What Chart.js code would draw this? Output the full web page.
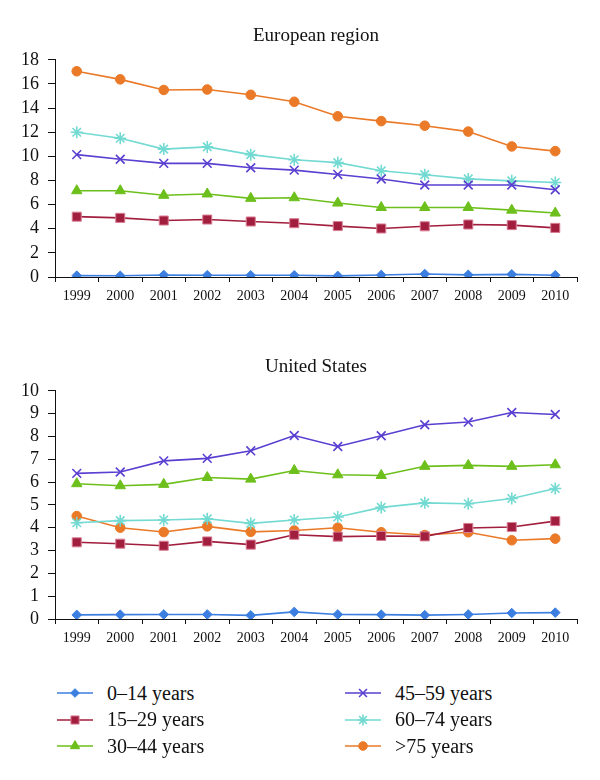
<!DOCTYPE html>
<html>
<head>
<meta charset="utf-8">
<script src="https://cdn.jsdelivr.net/npm/chart.js@4.4.1/dist/chart.umd.min.js"></script>
<style>
    body { margin: 0; background: #fff; width: 600px; height: 780px; position: relative; overflow: hidden; }
    .box { position: absolute; left: 0; width: 600px; }
    #euBox { top: 0; height: 310px; }
    #usBox { top: 320px; height: 340px; }
    .leg { position: absolute; height: 24px; display: flex; align-items: center;
           font-family: 'Liberation Serif', serif; font-size: 20px; color: #111; white-space: nowrap; }
    .leg canvas { margin-right: 12px; }
</style>
</head>
<body>
<div class="box" id="euBox"><canvas id="euChart"></canvas></div>
<div class="box" id="usBox"><canvas id="usChart"></canvas></div>
<div id="legend"></div>

<script>
const years = ['1999', '2000', '2001', '2002', '2003', '2004', '2005', '2006', '2007', '2008', '2009', '2010'];
const groups = ['0\u201314 years', '15\u201329 years', '30\u201344 years', '45\u201359 years', '60\u201374 years', '>75 years'];

// European region
const eu0to14 = [0.11, 0.1, 0.17, 0.15, 0.14, 0.14, 0.09, 0.17, 0.25, 0.18, 0.22, 0.15];
const eu15to29 = [5.0, 4.9, 4.68, 4.76, 4.6, 4.46, 4.22, 4.02, 4.2, 4.35, 4.3, 4.07];
const eu30to44 = [7.15, 7.15, 6.77, 6.88, 6.52, 6.57, 6.13, 5.76, 5.76, 5.76, 5.54, 5.3];
const eu45to59 = [10.14, 9.76, 9.42, 9.42, 9.05, 8.86, 8.5, 8.12, 7.62, 7.62, 7.62, 7.23];
const eu60to74 = [12.0, 11.5, 10.6, 10.78, 10.14, 9.72, 9.48, 8.8, 8.48, 8.13, 7.97, 7.83];
const eu75plus = [17.05, 16.38, 15.5, 15.54, 15.1, 14.52, 13.32, 12.92, 12.54, 12.05, 10.82, 10.43];

// United States
const us0to14 = [0.18, 0.19, 0.2, 0.2, 0.16, 0.31, 0.2, 0.19, 0.17, 0.2, 0.26, 0.28];
const us15to29 = [3.36, 3.3, 3.21, 3.4, 3.26, 3.69, 3.61, 3.64, 3.62, 3.99, 4.03, 4.29];
const us30to44 = [5.93, 5.84, 5.9, 6.2, 6.13, 6.51, 6.32, 6.29, 6.69, 6.73, 6.69, 6.76];
const us45to59 = [6.38, 6.44, 6.93, 7.04, 7.37, 8.04, 7.56, 8.03, 8.51, 8.63, 9.05, 8.96];
const us60to74 = [4.22, 4.31, 4.34, 4.39, 4.19, 4.34, 4.47, 4.89, 5.09, 5.05, 5.28, 5.72];
const us75plus = [4.51, 4.0, 3.81, 4.06, 3.82, 3.88, 4.0, 3.8, 3.68, 3.8, 3.45, 3.52];

const colors = ['#3c7fe0', '#a21e3e', '#6dc01c', '#5a3fd1', '#72dad2', '#eb7a28'];
const pointStyles = ['rectRot', 'rect', 'triangle', 'crossRot', 'star', 'circle'];
const pointSizes = [4.8, 6.4, 6, 6.2, 6, 4.8];

const serif = "'Liberation Serif', 'Times New Roman', serif";

function makeDatasets(seriesList) {
    return seriesList.map((values, i) => ({
        label: groups[i],
        data: values,
        borderColor: colors[i],
        backgroundColor: colors[i],
        borderWidth: 1.6,
        pointStyle: pointStyles[i],
        pointRadius: pointSizes[i],
        pointBorderWidth: (pointStyles[i] === 'crossRot' || pointStyles[i] === 'star') ? 1.6 : 1,
        pointBorderColor: pointStyles[i] === 'rect' ? '#d97f95' : colors[i],
        tension: 0
    }));
}

function makeOptions(title, yMax, titlePad, xHeight) {
    return {
        responsive: true,
        maintainAspectRatio: false,
        animation: false,
        layout: { padding: { left: 0, right: 23, top: 0, bottom: 0 } },
        plugins: {
            legend: { display: false },
            tooltip: { enabled: false },
            title: {
                display: true,
                text: title,
                fullSize: false,
                color: '#111',
                font: { family: serif, size: 19, weight: 'normal' },
                padding: titlePad
            }
        },
        scales: {
            x: {
                offset: true,
                grid: { offset: true, drawOnChartArea: false, drawTicks: true, tickLength: 5, color: '#111' },
                border: { display: true, color: '#111', width: 1 },
                ticks: { color: '#111', padding: 6, maxRotation: 0, autoSkip: false, font: { family: serif, size: 14 } },
                afterFit: (scale) => { scale.height = xHeight; }
            },
            y: {
                min: 0,
                max: yMax,
                ticks: { stepSize: yMax === 18 ? 2 : 1, autoSkip: false, color: '#111', padding: 9, font: { family: serif, size: 18 } },
                grid: { drawOnChartArea: false, drawTicks: true, tickLength: 7, color: '#111' },
                border: { display: true, color: '#111', width: 1 },
                afterFit: (scale) => { scale.width = 55; }
            }
        }
    };
}

new Chart(document.getElementById('euChart'), {
    type: 'line',
    data: {
        labels: years,
        datasets: makeDatasets([eu0to14, eu15to29, eu30to44, eu45to59, eu60to74, eu75plus])
    },
    options: makeOptions('European region', 18, { top: 25, bottom: 12 }, 33)
});

new Chart(document.getElementById('usChart'), {
    type: 'line',
    data: {
        labels: years,
        datasets: makeDatasets([us0to14, us15to29, us30to44, us45to59, us60to74, us75plus])
    },
    options: makeOptions('United States', 10, { top: 36, bottom: 12 }, 41)
});

// Two-column legend (column-major like the original)
function buildLegend() {
    const holder = document.getElementById('legend');
    const colX = [55, 343];
    const rowY = [693, 719.5, 746];
    groups.forEach((name, i) => {
        const col = Math.floor(i / 3);
        const row = i % 3;
        const item = document.createElement('div');
        item.className = 'leg';
        item.style.left = colX[col] + 'px';
        item.style.top = (rowY[row] - 12) + 'px';

        const c = document.createElement('canvas');
        c.width = 40;
        c.height = 16;
        const ctx = c.getContext('2d');
        ctx.strokeStyle = colors[i];
        ctx.lineWidth = 1.6;
        ctx.beginPath();
        ctx.moveTo(2, 8);
        ctx.lineTo(38, 8);
        ctx.stroke();
        ctx.fillStyle = colors[i];
        ctx.strokeStyle = pointStyles[i] === 'rect' ? '#d97f95' : colors[i];
        ctx.lineWidth = (pointStyles[i] === 'crossRot' || pointStyles[i] === 'star') ? 1.6 : 1;
        Chart.helpers.drawPoint(ctx, { pointStyle: pointStyles[i], radius: pointSizes[i] * 0.9, rotation: 0, borderWidth: ctx.lineWidth }, 20, 8);

        const label = document.createElement('span');
        label.textContent = name;
        item.appendChild(c);
        item.appendChild(label);
        holder.appendChild(item);
    });
}
buildLegend();
</script>
</body>
</html>
